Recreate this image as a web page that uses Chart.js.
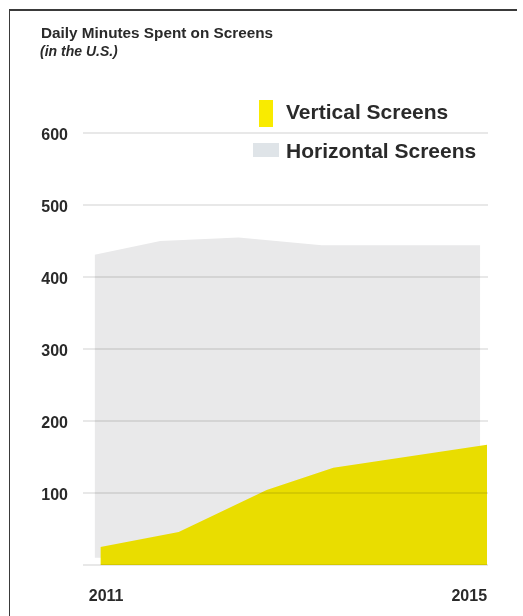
<!DOCTYPE html>
<html>
<head>
<meta charset="utf-8">
<script src="https://cdn.jsdelivr.net/npm/chart.js@4/dist/chart.umd.min.js"></script>
<style>
  html, body { margin: 0; padding: 0; background: #fff; }
  #wrap { position: relative; width: 523px; height: 616px; overflow: hidden; font-family: 'Liberation Sans', Arial, sans-serif; color: #2a2a2a; }
  #frame { position: absolute; left: 9px; top: 9px; width: 507px; height: 620px; border-top: 2px solid #3a3a3a; border-left: 1.5px solid #3a3a3a; }
  #chart { position: absolute; left: 0; top: 0; }
  .title { position: absolute; left: 41px; top: 25px; font-size: 15.3px; line-height: 15px; font-weight: bold; white-space: nowrap; }
  .sub { position: absolute; left: 40px; top: 44px; font-size: 14px; line-height: 14px; font-weight: bold; font-style: italic; white-space: nowrap; }
  .lg { position: absolute; left: 286px; font-size: 21px; line-height: 21px; font-weight: bold; white-space: nowrap; }
  .sw { position: absolute; }
</style>
</head>
<body>
<div id="wrap">
  <canvas id="chart" width="523" height="616"></canvas>
  <div id="frame"></div>
  <div class="title">Daily Minutes Spent on Screens</div>
  <div class="sub">(in the U.S.)</div>
  <div class="sw" style="left:259px;top:100px;width:14px;height:27px;background:#f9eb00"></div>
  <div class="lg" style="top:101px">Vertical Screens</div>
  <div class="sw" style="left:253px;top:143px;width:26px;height:14px;background:#dfe4e8"></div>
  <div class="lg" style="top:140px">Horizontal Screens</div>
</div>
<script>
// values (minutes per day, x in years)
const verticalX = [2011, 2011.81, 2012.72, 2013.41, 2015];
const verticalMinutes = [25, 46, 104, 135, 167];
const horizontalX = [2010.94, 2011.62, 2012.43, 2013.29, 2014.93];
const horizontalMinutes = [431, 450, 455, 444, 444];
const yTicks = [0, 100, 200, 300, 400, 500, 600];
const xTickLabels = ['2011', '2015'];

const toPoints = (xs, ys) => xs.map((x, i) => ({ x: x, y: ys[i] }));

const ctx = document.getElementById('chart').getContext('2d');
const chart = new Chart(ctx, {
  type: 'line',
  data: {
    datasets: [{
      label: 'Vertical Screens',
      data: toPoints(verticalX, verticalMinutes),
      backgroundColor: '#e9dd00',
      borderWidth: 0,
      pointRadius: 0,
      fill: 'origin'
    }, {
      label: 'Horizontal Screens',
      data: toPoints(horizontalX, horizontalMinutes),
      backgroundColor: '#e9e9ea',
      borderWidth: 0,
      pointRadius: 0,
      fill: { value: 10 }
    }]
  },
  options: {
    responsive: false,
    animation: false,
    layout: { padding: { top: 133, right: 35, left: 0, bottom: 0 } },
    plugins: { legend: { display: false }, tooltip: { enabled: false } },
    scales: {
      x: {
        type: 'linear',
        min: 2010.82,
        max: 2015.01,
        grid: { display: false },
        border: { display: false },
        afterBuildTicks: s => {
          // first label sits a bit left of the first point, as in the original
          s.ticks = [{ value: 2011 - 0.12 }, { value: 2015 }];
        },
        afterFit: s => { s.height = 51; },
        ticks: {
          align: 'inner',
          maxRotation: 0,
          padding: 14,
          color: '#2a2a2a',
          font: { family: "'Liberation Sans', Arial, sans-serif", size: 16, weight: 'bold' },
          callback: (v, i) => xTickLabels[i]
        }
      },
      y: {
        min: 0,
        max: 600,
        z: 1,
        border: { display: false },
        afterBuildTicks: s => { s.ticks = yTicks.map(v => ({ value: v })); },
        afterFit: s => { s.width = 83; },
        grid: { z: 1, color: 'rgba(0,0,0,0.09)', lineWidth: 2, drawTicks: false },
        ticks: {
          padding: 15,
          labelOffset: 3,
          color: '#2a2a2a',
          font: { family: "'Liberation Sans', Arial, sans-serif", size: 16, weight: 'bold' },
          callback: v => v === 0 ? '' : String(v)
        }
      }
    }
  }
});
</script>
</body>
</html>
